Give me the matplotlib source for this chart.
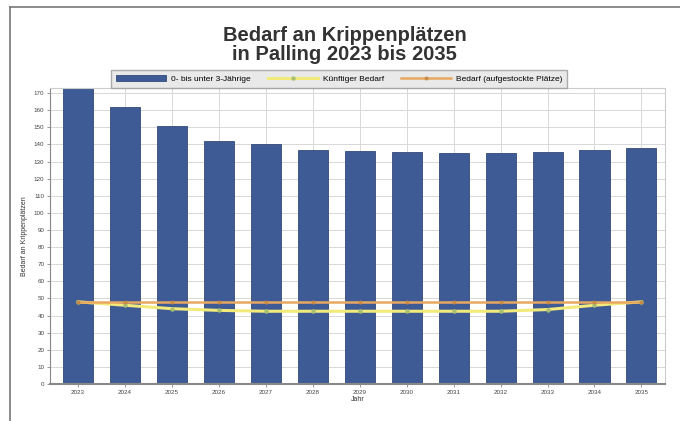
import matplotlib
matplotlib.use('Agg')
import matplotlib.pyplot as plt
from matplotlib.lines import Line2D

# Werte (geschaetzt)
years = ['2023', '2024', '2025', '2026', '2027', '2028', '2029',
         '2030', '2031', '2032', '2033', '2034', '2035']
kinder = [173, 162, 151, 142, 140, 137, 136, 135.5, 135, 135, 135.5, 137, 138]
bedarf_kuenftig = [48, 46, 44, 43, 42.5, 42.5, 42.5, 42.5, 42.5, 42.5, 43.5, 46, 48]
bedarf_plaetze = [48] * 13
y_ticks = list(range(0, 171, 10))

plt.rcParams['font.family'] = ['Liberation Sans', 'DejaVu Sans']

fig = plt.figure(figsize=(6.8, 4.21), dpi=100)
ax = fig.add_axes([0.0735, 0.088, 0.905, 0.703])

x = range(len(years))
bars = ax.bar(x, kinder, width=0.64, color='#3f5b96', edgecolor='#34497a',
              linewidth=0.6, zorder=2, label='0- bis unter 3-Jährige')
l1, = ax.plot(x, bedarf_kuenftig, color='#f2ea7a', linewidth=2.2, zorder=3,
              marker='o', markersize=2.2, markerfacecolor='#a8c070',
              markeredgecolor='#a8c070', label='Künftiger Bedarf')
l2, = ax.plot(x, bedarf_plaetze, color='#e8a860', linewidth=1.8, zorder=4,
              marker='o', markersize=1.8, markerfacecolor='#c98a45',
              markeredgecolor='#c98a45', label='Bedarf (aufgestockte Plätze)')

ax.set_xlim(-0.6, 12.51)
ax.set_ylim(0, 173)
ax.set_xticks(list(x))
ax.set_xticklabels(years, fontsize=4.5, color='#444444')
ax.set_yticks(y_ticks)
ax.set_yticklabels([str(t) for t in y_ticks], fontsize=4.5, color='#444444')
ax.tick_params(length=2, width=0.6, colors='#888888', labelcolor='#444444', pad=2)
ax.set_xlabel('Jahr', fontsize=5, color='#333333', labelpad=1)
ax.set_ylabel('Bedarf an Krippenplätzen', fontsize=5, color='#333333', labelpad=4)
ax.grid(True, color='#d8d8d8', linewidth=0.7, zorder=0)
ax.set_axisbelow(True)
for s in ['top', 'right']:
    ax.spines[s].set_color('#cccccc')
for s in ['left', 'bottom']:
    ax.spines[s].set_color('#888888')
ax.spines['bottom'].set_linewidth(1.5)

leg = ax.legend([bars, l1, l2], [bars.get_label(), l1.get_label(), l2.get_label()],
                loc='lower center', bbox_to_anchor=(0.47, 0.995), ncol=3,
                fontsize=6, frameon=True, borderpad=0.3, handlelength=6,
                columnspacing=2.0, handletextpad=0.6)
leg.get_frame().set_facecolor('#e4e4e4')
leg.get_frame().set_edgecolor('#999999')
leg.get_frame().set_boxstyle('square')

fig.text(0.507, 0.893, 'Bedarf an Krippenplätzen\nin Palling 2023 bis 2035',
         ha='center', va='center', fontsize=14.5, fontweight='bold',
         color='#333333', linespacing=1.0)

# Rahmen der Vorlage (oben und links)
fig.add_artist(Line2D([10 / 680, 1.0], [1 - 7 / 421, 1 - 7 / 421],
                      transform=fig.transFigure, color='#777777', linewidth=1.2))
fig.add_artist(Line2D([10 / 680, 10 / 680], [0.0, 1 - 7 / 421],
                      transform=fig.transFigure, color='#777777', linewidth=1.2))

fig.savefig('out.png', dpi=100)
